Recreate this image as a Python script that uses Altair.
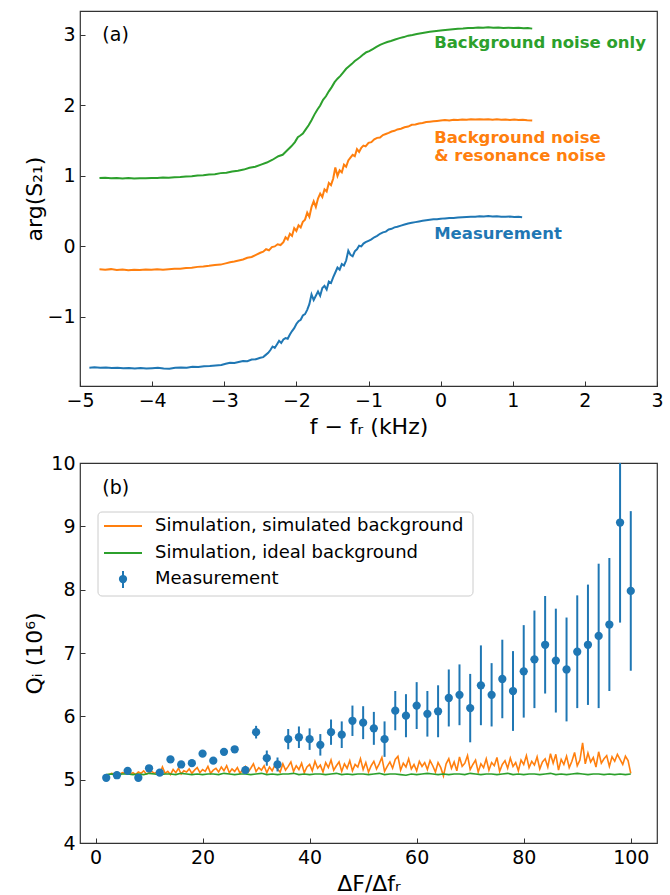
import altair as alt
import pandas as pd

FONT = "DejaVu Sans"
BLUE, ORANGE, GREEN = "#1f77b4", "#ff7f0e", "#2ca02c"

# ---------------- panel (a): phase curves  (f - f_r [kHz], arg S21) ----------------
meas_curve = [
    (-4.87, -1.720), (-4.80, -1.715), (-4.72, -1.722), (-4.64, -1.718), (-4.56, -1.726),
    (-4.48, -1.721), (-4.40, -1.728), (-4.32, -1.724), (-4.24, -1.731), (-4.16, -1.726),
    (-4.08, -1.733), (-4.00, -1.728), (-3.92, -1.722), (-3.84, -1.730), (-3.76, -1.735),
    (-3.68, -1.722), (-3.60, -1.716), (-3.52, -1.720), (-3.44, -1.708), (-3.36, -1.712),
    (-3.28, -1.700), (-3.20, -1.697), (-3.12, -1.688), (-3.04, -1.682), (-2.98, -1.665),
    (-2.92, -1.650), (-2.86, -1.655), (-2.80, -1.640), (-2.74, -1.625), (-2.68, -1.628),
    (-2.62, -1.605), (-2.56, -1.600), (-2.50, -1.580), (-2.46, -1.570), (-2.42, -1.535),
    (-2.39, -1.510), (-2.36, -1.470), (-2.33, -1.420), (-2.30, -1.440), (-2.27, -1.390),
    (-2.24, -1.340), (-2.21, -1.370), (-2.18, -1.320), (-2.15, -1.300), (-2.12, -1.310),
    (-2.09, -1.250), (-2.06, -1.200), (-2.03, -1.160), (-2.00, -1.100), (-1.97, -1.060),
    (-1.94, -1.040), (-1.91, -0.980), (-1.88, -0.960), (-1.85, -0.900), (-1.82, -0.820),
    (-1.79, -0.680), (-1.76, -0.760), (-1.73, -0.700), (-1.70, -0.640), (-1.67, -0.700),
    (-1.64, -0.590), (-1.61, -0.560), (-1.58, -0.610), (-1.55, -0.500), (-1.52, -0.520),
    (-1.49, -0.440), (-1.46, -0.370), (-1.43, -0.300), (-1.40, -0.330), (-1.37, -0.250),
    (-1.34, -0.270), (-1.31, -0.200), (-1.28, -0.060), (-1.25, -0.120), (-1.22, -0.140),
    (-1.19, -0.070), (-1.16, -0.040), (-1.13, 0.010), (-1.10, 0.000), (-1.07, 0.040),
    (-1.04, 0.060), (-1.00, 0.080), (-0.96, 0.100), (-0.92, 0.130), (-0.88, 0.150),
    (-0.84, 0.180), (-0.80, 0.200), (-0.76, 0.210), (-0.72, 0.240), (-0.68, 0.250),
    (-0.64, 0.270), (-0.60, 0.280), (-0.55, 0.295), (-0.50, 0.310), (-0.45, 0.325),
    (-0.40, 0.335), (-0.35, 0.345), (-0.30, 0.355), (-0.25, 0.365), (-0.20, 0.372),
    (-0.15, 0.378), (-0.10, 0.385), (-0.05, 0.385), (0.00, 0.392), (0.06, 0.398),
    (0.12, 0.402), (0.18, 0.405), (0.24, 0.410), (0.30, 0.415), (0.36, 0.418),
    (0.42, 0.422), (0.48, 0.420), (0.54, 0.428), (0.60, 0.426), (0.66, 0.430),
    (0.72, 0.425), (0.78, 0.428), (0.84, 0.422), (0.90, 0.420), (0.96, 0.424),
    (1.02, 0.418), (1.08, 0.420), (1.13, 0.415),
]

noise_res_curve = [
    (-4.73, -0.325), (-4.65, -0.330), (-4.57, -0.322), (-4.49, -0.333), (-4.41, -0.328),
    (-4.33, -0.338), (-4.25, -0.330), (-4.17, -0.335), (-4.09, -0.328), (-4.01, -0.332),
    (-3.93, -0.325), (-3.85, -0.330), (-3.77, -0.322), (-3.69, -0.318), (-3.61, -0.315),
    (-3.53, -0.305), (-3.45, -0.302), (-3.37, -0.290), (-3.29, -0.285), (-3.21, -0.275),
    (-3.13, -0.262), (-3.05, -0.258), (-2.98, -0.240), (-2.92, -0.225), (-2.86, -0.215),
    (-2.80, -0.200), (-2.74, -0.185), (-2.68, -0.160), (-2.62, -0.150), (-2.56, -0.120),
    (-2.50, -0.090), (-2.46, -0.075), (-2.42, -0.040), (-2.38, -0.055), (-2.34, -0.010),
    (-2.30, 0.000), (-2.26, 0.030), (-2.22, 0.020), (-2.18, 0.060), (-2.15, 0.130),
    (-2.12, 0.100), (-2.09, 0.180), (-2.06, 0.150), (-2.03, 0.260), (-2.00, 0.220),
    (-1.97, 0.300), (-1.94, 0.270), (-1.91, 0.350), (-1.88, 0.380), (-1.85, 0.480),
    (-1.82, 0.420), (-1.79, 0.560), (-1.76, 0.640), (-1.73, 0.560), (-1.70, 0.680),
    (-1.67, 0.750), (-1.64, 0.700), (-1.61, 0.810), (-1.58, 0.780), (-1.55, 0.900),
    (-1.52, 0.870), (-1.49, 0.960), (-1.46, 1.120), (-1.43, 1.000), (-1.40, 1.080),
    (-1.37, 1.050), (-1.34, 1.160), (-1.31, 1.130), (-1.28, 1.220), (-1.25, 1.260),
    (-1.22, 1.300), (-1.19, 1.280), (-1.16, 1.380), (-1.13, 1.340), (-1.10, 1.400),
    (-1.07, 1.430), (-1.04, 1.420), (-1.00, 1.470), (-0.96, 1.480), (-0.92, 1.520),
    (-0.88, 1.540), (-0.84, 1.545), (-0.80, 1.580), (-0.76, 1.595), (-0.72, 1.610),
    (-0.68, 1.630), (-0.64, 1.640), (-0.60, 1.660), (-0.55, 1.670), (-0.50, 1.690),
    (-0.45, 1.700), (-0.40, 1.725), (-0.35, 1.730), (-0.30, 1.745), (-0.25, 1.750),
    (-0.20, 1.765), (-0.15, 1.770), (-0.10, 1.775), (-0.05, 1.780), (0.00, 1.785),
    (0.06, 1.792), (0.12, 1.788), (0.18, 1.798), (0.24, 1.795), (0.30, 1.802),
    (0.36, 1.798), (0.42, 1.805), (0.48, 1.800), (0.54, 1.806), (0.60, 1.800),
    (0.66, 1.804), (0.72, 1.798), (0.78, 1.803), (0.84, 1.797), (0.90, 1.800),
    (0.96, 1.795), (1.02, 1.800), (1.08, 1.794), (1.14, 1.798), (1.20, 1.790),
    (1.27, 1.785),
]

noise_only_curve = [
    (-4.73, 0.970), (-4.65, 0.975), (-4.57, 0.968), (-4.49, 0.972), (-4.41, 0.965),
    (-4.33, 0.970), (-4.25, 0.964), (-4.17, 0.968), (-4.09, 0.966), (-4.01, 0.972),
    (-3.93, 0.970), (-3.85, 0.978), (-3.77, 0.975), (-3.69, 0.982), (-3.61, 0.985),
    (-3.53, 0.992), (-3.45, 0.995), (-3.37, 1.005), (-3.29, 1.010), (-3.21, 1.020),
    (-3.13, 1.025), (-3.05, 1.040), (-2.97, 1.045), (-2.89, 1.062), (-2.81, 1.075),
    (-2.73, 1.090), (-2.65, 1.115), (-2.57, 1.130), (-2.49, 1.160), (-2.41, 1.190),
    (-2.33, 1.230), (-2.25, 1.280), (-2.19, 1.300), (-2.13, 1.360), (-2.07, 1.420),
    (-2.02, 1.480), (-1.98, 1.550), (-1.95, 1.570), (-1.91, 1.600), (-1.87, 1.660),
    (-1.83, 1.720), (-1.79, 1.790), (-1.75, 1.870), (-1.71, 1.940), (-1.67, 2.000),
    (-1.63, 2.080), (-1.59, 2.130), (-1.55, 2.200), (-1.51, 2.260), (-1.47, 2.330),
    (-1.43, 2.380), (-1.39, 2.420), (-1.35, 2.470), (-1.31, 2.520), (-1.27, 2.555),
    (-1.23, 2.590), (-1.19, 2.630), (-1.15, 2.660), (-1.11, 2.690), (-1.07, 2.725),
    (-1.03, 2.755), (-0.99, 2.770), (-0.94, 2.800), (-0.89, 2.830), (-0.84, 2.860),
    (-0.79, 2.880), (-0.74, 2.900), (-0.69, 2.915), (-0.63, 2.935), (-0.57, 2.955),
    (-0.51, 2.970), (-0.45, 2.990), (-0.39, 3.000), (-0.33, 3.015), (-0.27, 3.025),
    (-0.21, 3.035), (-0.15, 3.045), (-0.09, 3.052), (-0.03, 3.060), (0.03, 3.068),
    (0.10, 3.075), (0.17, 3.082), (0.24, 3.088), (0.31, 3.092), (0.38, 3.098),
    (0.45, 3.100), (0.52, 3.105), (0.59, 3.102), (0.66, 3.108), (0.73, 3.104),
    (0.80, 3.106), (0.87, 3.100), (0.94, 3.104), (1.01, 3.098), (1.08, 3.102),
    (1.15, 3.095), (1.21, 3.098), (1.27, 3.090),
]

top_series = ["Measurement", "Background noise & resonance noise", "Background noise only"]
top_colors = [BLUE, ORANGE, GREEN]

# curve labels: (text, x, y, series)
top_annotations = [
    ("Background noise only", -0.09, 2.88, "Background noise only"),
    ("Background noise", -0.09, 1.545, "Background noise & resonance noise"),
    (" & resonance noise", -0.09, 1.28, "Background noise & resonance noise"),
    ("Measurement", -0.09, 0.18, "Measurement"),
]

top_x_ticks = [-5, -4, -3, -2, -1, 0, 1, 2, 3]
top_y_ticks = [-1, 0, 1, 2, 3]
top_x_domain = [-5, 3]
top_y_domain = [-1.98, 3.34]

# ---------------- panel (b): Q_i vs  dF/df_r ----------------
ratio = [2, 4, 6, 8, 10, 12, 14, 16, 18, 20, 22, 24, 26, 28, 30, 32, 34, 36, 38, 40,
         42, 44, 46, 48, 50, 52, 54, 56, 58, 60, 62, 64, 66, 68, 70, 72, 74, 76, 78, 80,
         82, 84, 86, 88, 90, 92, 94, 96, 98, 100]
q_meas = [5.03, 5.07, 5.14, 5.03, 5.18, 5.11, 5.32, 5.24, 5.26, 5.41,
          5.30, 5.44, 5.48, 5.15, 5.75, 5.34, 5.24, 5.64, 5.67, 5.64,
          5.55, 5.75, 5.71, 5.93, 5.90, 5.81, 5.64, 6.09, 6.01, 6.17,
          6.04, 6.08, 6.29, 6.34, 6.13, 6.49, 6.34, 6.59, 6.40, 6.71,
          6.90, 7.13, 6.88, 6.74, 7.02, 7.13, 7.27, 7.45, 9.06, 7.98]
q_err = [0.02, 0.02, 0.03, 0.03, 0.03, 0.03, 0.04, 0.04, 0.04, 0.04,
         0.04, 0.05, 0.05, 0.06, 0.10, 0.12, 0.11, 0.16, 0.17, 0.17,
         0.17, 0.20, 0.21, 0.24, 0.26, 0.26, 0.28, 0.31, 0.34, 0.37,
         0.36, 0.41, 0.45, 0.48, 0.54, 0.63, 0.50, 0.62, 0.63, 0.73,
         0.77, 0.77, 0.82, 0.82, 0.89, 0.95, 1.14, 1.05, 1.58, 1.26]

# simulated background, sampled every 0.5 from 2 to 100
sim_bg_q = [
    5.07, 5.08, 5.10, 5.09, 5.12, 5.08, 5.11, 5.10, 5.13, 5.09,
    5.11, 5.08, 5.12, 5.10, 5.14, 5.09, 5.11, 5.13, 5.10, 5.12,
    5.09, 5.20, 5.10, 5.13, 5.08, 5.16, 5.11, 5.18, 5.09, 5.14,
    5.12, 5.17, 5.10, 5.15, 5.19, 5.11, 5.16, 5.13, 5.21, 5.10,
    5.15, 5.18, 5.12, 5.20, 5.14, 5.22, 5.11, 5.17, 5.13, 5.19,
    5.10, 5.16, 5.21, 5.12, 5.18, 5.25, 5.13, 5.19, 5.15, 5.22,
    5.11, 5.20, 5.14, 5.23, 5.17, 5.12, 5.25, 5.15, 5.21, 5.28,
    5.13, 5.22, 5.16, 5.26, 5.11, 5.20, 5.24, 5.14, 5.29, 5.18,
    5.23, 5.12, 5.27, 5.19, 5.31, 5.15, 5.22, 5.28, 5.13, 5.25,
    5.18, 5.30, 5.14, 5.24, 5.20, 5.33, 5.16, 5.27, 5.12, 5.22,
    5.29, 5.17, 5.25, 5.35, 5.13, 5.21, 5.28, 5.18, 5.32, 5.37,
    5.15, 5.26, 5.20, 5.33, 5.17, 5.24, 5.14, 5.29, 5.21, 5.27,
    5.16, 5.30, 5.22, 5.12, 5.27, 5.19, 5.06, 5.25, 5.33, 5.18,
    5.28, 5.14, 5.36, 5.21, 5.26, 5.38, 5.16, 5.24, 5.31, 5.12,
    5.25, 5.19, 5.33, 5.15, 5.27, 5.22, 5.35, 5.13, 5.24, 5.30,
    5.18, 5.34, 5.21, 5.27, 5.14, 5.31, 5.24, 5.38, 5.19, 5.29,
    5.23, 5.36, 5.17, 5.28, 5.33, 5.20, 5.41, 5.26, 5.40, 5.15,
    5.32, 5.24, 5.37, 5.19, 5.29, 5.43, 5.22, 5.31, 5.58, 5.25,
    5.42, 5.28, 5.35, 5.20, 5.44, 5.26, 5.33, 5.38, 5.21, 5.36,
    5.29, 5.40, 5.32, 5.24, 5.37, 5.30, 5.10,
]
# ideal background, sampled every 1 from 2 to 100
ideal_bg_q = [
    5.08, 5.09, 5.08, 5.09, 5.09, 5.08, 5.09, 5.08, 5.10, 5.09,
    5.08, 5.09, 5.09, 5.08, 5.10, 5.09, 5.08, 5.09, 5.08, 5.09,
    5.09, 5.08, 5.10, 5.09, 5.08, 5.09, 5.09, 5.08, 5.09, 5.10,
    5.08, 5.09, 5.08, 5.09, 5.09, 5.10, 5.08, 5.09, 5.08, 5.09,
    5.09, 5.08, 5.09, 5.10, 5.08, 5.09, 5.08, 5.09, 5.09, 5.08,
    5.09, 5.10, 5.08, 5.09, 5.09, 5.08, 5.07, 5.09, 5.08, 5.09,
    5.10, 5.09, 5.08, 5.09, 5.08, 5.09, 5.09, 5.08, 5.10, 5.09,
    5.08, 5.09, 5.09, 5.08, 5.09, 5.10, 5.08, 5.09, 5.08, 5.09,
    5.09, 5.08, 5.09, 5.10, 5.08, 5.09, 5.08, 5.09, 5.10, 5.09,
    5.08, 5.09, 5.09, 5.08, 5.09, 5.08, 5.09, 5.08, 5.09,
]

bot_x_ticks = [0, 20, 40, 60, 80, 100]
bot_y_ticks = [4, 5, 6, 7, 8, 9, 10]
bot_x_domain = [-2.9, 104.9]
bot_y_domain = [4, 10]

legend_labels = ["Simulation, simulated background", "Simulation, ideal background", "Measurement"]
panel_labels = [("(a)", -4.69, 3.0), ("(b)", 1.25, 9.6)]

# ---------------- build tables ----------------
rows = []
for name, curve in zip(top_series, [meas_curve, noise_res_curve, noise_only_curve]):
    for i, (x, y) in enumerate(curve):
        rows.append({"series": name, "x": x, "y": y, "order": i})
top_df = pd.DataFrame(rows)
ann_df = pd.DataFrame(top_annotations, columns=["text", "x", "y", "series"])

meas_df = pd.DataFrame({"x": ratio, "q": q_meas, "err": q_err})
meas_df["lo"] = meas_df["q"] - meas_df["err"]
meas_df["hi"] = meas_df["q"] + meas_df["err"]
sim_df = pd.DataFrame({"x": [2 + 0.5 * i for i in range(len(sim_bg_q))], "q": sim_bg_q})
ideal_df = pd.DataFrame({"x": [2 + i for i in range(len(ideal_bg_q))], "q": ideal_bg_q})
one = pd.DataFrame({"k": [0]})

color_scale = alt.Scale(domain=top_series, range=top_colors)


def axis(values, title, **kw):
    return alt.Axis(values=values, title=title, format="d", offset=-5, tickSize=5,
                    labelPadding=5, labelFlush=False, labelOverlap=False, **kw)


# ---------------- panel (a) ----------------
xa = alt.X("x:Q", scale=alt.Scale(domain=top_x_domain, nice=False, zero=False),
           axis=axis(top_x_ticks, "f − fᵣ (kHz)", titlePadding=6))
ya = alt.Y("y:Q", scale=alt.Scale(domain=top_y_domain, nice=False, zero=False),
           axis=axis(top_y_ticks, "arg(S₂₁)", titleX=-39))

lines_a = alt.Chart(top_df).mark_line(strokeWidth=2, clip=True).encode(
    x=xa, y=ya,
    color=alt.Color("series:N", scale=color_scale, legend=None),
    order="order:Q",
)
ann_a = alt.Chart(ann_df).mark_text(align="left", baseline="middle", font=FONT,
                                    fontSize=16.5, fontWeight="bold").encode(
    x="x:Q", y="y:Q", text="text:N",
    color=alt.Color("series:N", scale=color_scale, legend=None),
)
lab_a = alt.Chart(pd.DataFrame([panel_labels[0]], columns=["t", "x", "y"])).mark_text(
    align="left", baseline="middle", font=FONT, fontSize=19, color="black").encode(
    x="x:Q", y="y:Q", text="t:N")

top = alt.layer(lines_a, ann_a, lab_a).properties(width=577, height=375)

# ---------------- panel (b) ----------------
xb_scale = alt.Scale(domain=bot_x_domain, nice=False, zero=False)
yb_scale = alt.Scale(domain=bot_y_domain, nice=False, zero=False)
xb = alt.X("x:Q", scale=xb_scale, axis=axis(bot_x_ticks, "ΔF/Δfᵣ", titlePadding=6))
yb = alt.Y("q:Q", scale=yb_scale, axis=axis(bot_y_ticks, "Qᵢ (10⁶)", titleX=-39))

sim_line = alt.Chart(sim_df).mark_line(color=ORANGE, strokeWidth=1.6).encode(x=xb, y=yb)
ideal_line = alt.Chart(ideal_df).mark_line(color=GREEN, strokeWidth=1.6).encode(x=xb, y=yb)
err_bars = alt.Chart(meas_df).mark_rule(color=BLUE, strokeWidth=2, clip=True).encode(
    x=xb, y=alt.Y("lo:Q", scale=yb_scale), y2="hi:Q")
pts = alt.Chart(meas_df).mark_circle(color=BLUE, size=68, opacity=1).encode(x=xb, y=yb)

# legend box (pixel placement inside the panel)
leg_box = alt.Chart(one).mark_rect(fill="white", fillOpacity=0.8, stroke="#cccccc",
                                   strokeWidth=1, cornerRadius=4).encode(
    x=alt.value(18), x2=alt.value(393), y=alt.value(49), y2=alt.value(133))
leg_l1 = alt.Chart(one).mark_rule(color=ORANGE, strokeWidth=2).encode(
    x=alt.value(24), x2=alt.value(62), y=alt.value(63))
leg_l2 = alt.Chart(one).mark_rule(color=GREEN, strokeWidth=2).encode(
    x=alt.value(24), x2=alt.value(62), y=alt.value(90))
leg_eb = alt.Chart(one).mark_rule(color=BLUE, strokeWidth=2).encode(
    x=alt.value(43), y=alt.value(108), y2=alt.value(125))
leg_pt = alt.Chart(one).mark_circle(color=BLUE, size=68, opacity=1).encode(
    x=alt.value(43), y=alt.value(116))
leg_texts = [
    alt.Chart(one).mark_text(align="left", baseline="middle", font=FONT, fontSize=18,
                             color="black").encode(
        x=alt.value(75), y=alt.value(yy), text=alt.value(lbl))
    for lbl, yy in zip(legend_labels, [63, 90, 116])
]
lab_b = alt.Chart(pd.DataFrame([panel_labels[1]], columns=["t", "x", "q"])).mark_text(
    align="left", baseline="middle", font=FONT, fontSize=19, color="black").encode(
    x=alt.X("x:Q", scale=xb_scale), y=alt.Y("q:Q", scale=yb_scale), text="t:N")

bottom = alt.layer(sim_line, ideal_line, err_bars, pts, leg_box, leg_l1, leg_l2,
                   leg_eb, leg_pt, *leg_texts, lab_b).properties(width=577, height=380)

chart = alt.vconcat(top, bottom, spacing=77, bounds="flush").properties(
    padding={"left": 22, "top": 10, "right": 4, "bottom": 4}
).configure_view(stroke="#333333", strokeWidth=1.2).configure_axis(
    grid=False, domain=False, tickColor="#333333", tickWidth=1,
    labelFont=FONT, labelFontSize=19, labelColor="black",
    titleFont=FONT, titleFontSize=22, titleFontWeight="normal", titleColor="black",
)

chart.save("out.html", embed_options={"renderer": "svg", "actions": False})
